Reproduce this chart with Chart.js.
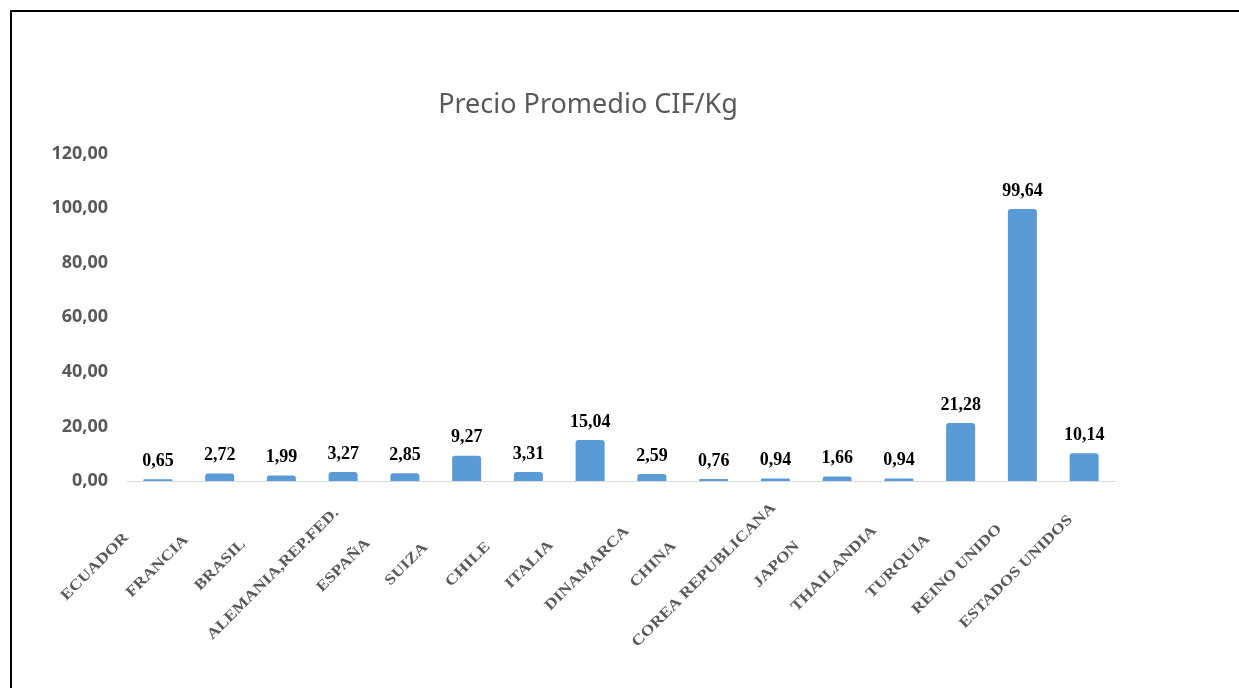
<!DOCTYPE html>
<html>
<head>
<meta charset="utf-8">
<title>Precio Promedio CIF/Kg</title>
<script src="https://cdn.jsdelivr.net/npm/chart.js@4.4.1/dist/chart.umd.min.js"></script>
<style>
	html, body { margin: 0; padding: 0; background: #fff; overflow: hidden; }
	#frame {
		position: absolute; left: 10px; top: 10px; right: -20px; bottom: -20px;
		border: 2px solid #000;
	}
	#wrap { position: absolute; left: 0; top: 0; width: 1239px; height: 688px; }
</style>
</head>
<body>
<div id="frame"></div>
<div id="wrap"><canvas id="bar-chart"></canvas></div>
<script>
// data
var paises = ["ECUADOR", "FRANCIA", "BRASIL", "ALEMANIA,REP.FED.", "ESPAÑA", "SUIZA", "CHILE", "ITALIA",
	"DINAMARCA", "CHINA", "COREA REPUBLICANA", "JAPON", "THAILANDIA", "TURQUIA", "REINO UNIDO", "ESTADOS UNIDOS"];
var precios = [0.65, 2.72, 1.99, 3.27, 2.85, 9.27, 3.31, 15.04, 2.59, 0.76, 0.94, 1.66, 0.94, 21.28, 99.64, 10.14];
var yTicks = [0, 20, 40, 60, 80, 100, 120];

function coma(v) {
	return v.toFixed(2).replace(".", ",");
}

/**
 * value labels over each bar
 */
var valueLabels = {
	id : "valueLabels",
	afterDatasetsDraw : function(chart) {
		var ctx = chart.ctx;
		var meta = chart.getDatasetMeta(0);
		ctx.save();
		ctx.font = "bold 18px 'Liberation Serif', 'Times New Roman', serif";
		ctx.fillStyle = "#000";
		ctx.textAlign = "center";
		ctx.textBaseline = "bottom";
		meta.data.forEach(function(bar, i) {
			ctx.fillText(coma(precios[i]), bar.x, bar.y - 9);
		});
		ctx.restore();
	}
};

/**
 * rotated category labels (excel style, centred under the tick)
 */
var slantLabels = {
	id : "slantLabels",
	afterDraw : function(chart) {
		var ctx = chart.ctx;
		var xs = chart.scales.x;
		ctx.save();
		ctx.font = "bold 15px 'Liberation Serif', 'Times New Roman', serif";
		ctx.fillStyle = "#595959";
		ctx.textBaseline = "middle";
		ctx.textAlign = "left";
		for (var i = 0; i < paises.length; i++) {
			var px = xs.getPixelForTick(i) - 56;
			var py = xs.top + 79;
			var w = ctx.measureText(paises[i]).width;
			ctx.save();
			ctx.translate(px, py);
			ctx.rotate(-Math.PI / 4);
			ctx.scale(1.17, 1);
			ctx.fillText(paises[i], -0.61 * w, 0);
			ctx.restore();
		}
		ctx.restore();
	}
};

var ctx = document.getElementById("bar-chart");

var chart = new Chart(ctx, {
	type : "bar",
	data : {
		labels : paises,
		datasets : [
			{
				label : "Precio Promedio CIF/Kg",
				data : precios,
				backgroundColor : "#5B9BD5",
				borderRadius : 3,
				categoryPercentage : 1,
				barPercentage : 0.47
			}
		]
	},
	options : {
		responsive : true,
		maintainAspectRatio : false,
		animation : false,
		layout : {
			padding : { left : 0, right : 63, top : 0, bottom : 0 }
		},
		plugins : {
			legend : { display : false },
			tooltip : { enabled : false },
			title : {
				display : true,
				text : "Precio Promedio CIF/Kg",
				color : "#595959",
				font : { family : "'Noto Sans', sans-serif", size : 27, weight : "normal" },
				padding : { top : 89, bottom : 32 }
			}
		},
		scales : {
			x : {
				grid : { display : false, drawTicks : false },
				border : { display : true, color : "#d9d9d9", width : 1 },
				ticks : { display : false },
				afterFit : function(scale) { scale.height = 207; }
			},
			y : {
				min : 0,
				max : 120,
				grid : { display : false, drawTicks : false },
				border : { display : false },
				afterBuildTicks : function(scale) {
					scale.ticks = yTicks.map(function(v) { return { value : v }; });
				},
				ticks : {
					padding : 19,
					color : "#595959",
					font : { family : "'Noto Sans', sans-serif", size : 18, weight : "bold" },
					callback : function(v) { return coma(v); }
				},
				afterFit : function(scale) { scale.width = 127; }
			},
			// empty right margin so the title sits where it does in the original
			margen : {
				position : "right",
				grid : { display : false, drawTicks : false },
				border : { display : false },
				ticks : { display : false },
				afterFit : function(scale) { scale.width = 61; }
			}
		}
	},
	plugins : [valueLabels, slantLabels]
});
</script>
</body>
</html>
